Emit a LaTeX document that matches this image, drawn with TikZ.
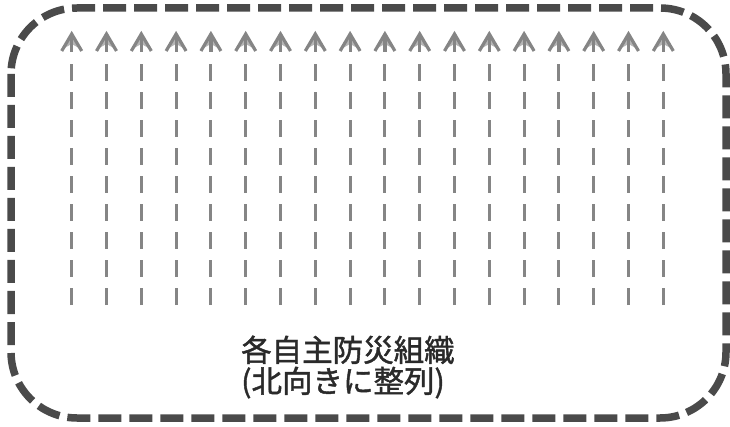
\documentclass[tikz,border=0pt]{standalone}
\usepackage{fontspec}
\newfontfamily\cjk[FakeBold=1.4]{Noto Sans CJK JP}
\definecolor{borderc}{HTML}{4A4A4A}
\definecolor{arrowc}{HTML}{858585}
\definecolor{textc}{HTML}{2A2A2A}
\tikzset{
  frame/.style={draw=borderc, line width=7.5pt, rounded corners=66pt, dash pattern=on 23pt off 8pt},
  rowdash/.style={draw=arrowc, line width=3pt, dash pattern=on 17pt off 11pt},
  headline/.style={draw=arrowc, line width=3.2pt, miter limit=10},
  headfill/.style={fill=arrowc!60},
  label/.style={text=textc, font=\cjk\fontsize{30.5pt}{31pt}\selectfont, align=left, inner sep=0pt, anchor=west}
}
\begin{document}
\begin{tikzpicture}[x=1pt,y=-1pt]
\useasboundingbox (0,0) rectangle (730,427);
\draw[frame] (11,8) rectangle (726,418);
\foreach \i in {0,...,17}{
  \pgfmathsetmacro{\xx}{71.7+34.8*\i}
  \draw[rowdash] (\xx,305) -- (\xx,63);
  \fill[headfill] (\xx-9,49) -- (\xx,34) -- (\xx+9,49) -- (\xx,44) -- cycle;
  \draw[headline] (\xx,52) -- (\xx,34);
  \draw[headline] (\xx-10,51) -- (\xx,34) -- (\xx+10,51);
}
\node[label] (t) at (241,367) {各自主防災組織\\(北向きに整列)};
\end{tikzpicture}
\end{document}
